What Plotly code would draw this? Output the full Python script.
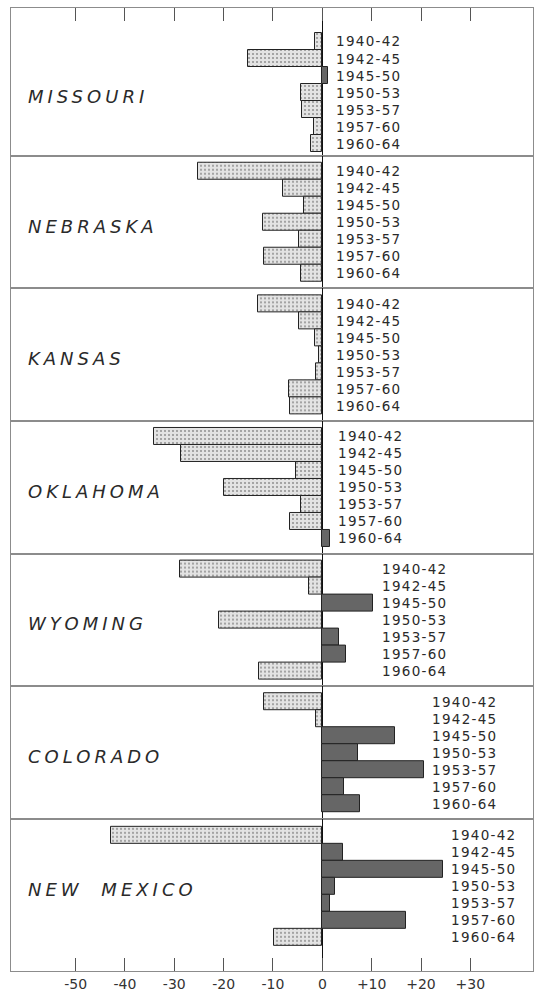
import plotly.graph_objects as go
from plotly.subplots import make_subplots

# ---- data ----
states = ["MISSOURI", "NEBRASKA", "KANSAS", "OKLAHOMA", "WYOMING", "COLORADO", "NEW MEXICO"]
periods = ["1940-42", "1942-45", "1945-50", "1950-53", "1953-57", "1957-60", "1960-64"]

missouri = [-1.5, -15.0, 1.1, -4.4, -4.1, -1.7, -2.2]
nebraska = [-25.3, -7.9, -3.7, -12.1, -4.8, -11.9, -4.4]
kansas = [-13.0, -4.8, -1.5, -0.6, -1.3, -6.7, -6.5]
oklahoma = [-34.2, -28.7, -5.3, -20.0, -4.3, -6.5, 1.5]
wyoming = [-28.8, -2.8, 10.3, -20.9, 3.3, 4.8, -12.9]
colorado = [-11.9, -1.3, 14.7, 7.2, 20.6, 4.4, 7.6]
new_mexico = [-42.8, 4.1, 24.4, 2.5, 1.6, 16.9, -9.8]

series = [missouri, nebraska, kansas, oklahoma, wyoming, colorado, new_mexico]

tick_vals = [-50, -40, -30, -20, -10, 0, 10, 20, 30]
tick_text = ["-50", "-40", "-30", "-20", "-10", "0", "+10", "+20", "+30"]

# ---- layout parameters ----
X_RANGE = [-63.1, 42.7]
pads = [(1.47, 0.22)] + [(0.4, 0.4)] * 5 + [(0.45, 1.5)]
units = [7 + a + b for a, b in pads]
row_heights = [u / sum(units) for u in units]

NEG_BG = "#e3e3e3"
NEG_DOT = "#8a8a8a"
POS = "#666666"
EDGE = "#222222"
FRAME = "#8c8c8c"
FONT = "DejaVu Sans"

fig = make_subplots(rows=7, cols=1, vertical_spacing=0, row_heights=row_heights)

ypos = list(range(len(periods)))
annotations = []
for r, (name, vals) in enumerate(zip(states, series), start=1):
    colors = [POS if v > 0 else NEG_BG for v in vals]
    shapes = ["" if v > 0 else "." for v in vals]
    fig.add_trace(
        go.Bar(
            x=vals, y=ypos, orientation="h", width=1.0,
            marker=dict(
                color=colors,
                line=dict(color=EDGE, width=1),
                pattern=dict(shape=shapes, fgcolor=NEG_DOT, size=4, solidity=0.22),
            ),
            showlegend=False,
            text=periods, hovertemplate="%{text}: %{x}<extra>" + name + "</extra>",
            textposition="none",
        ),
        row=r, col=1,
    )
    pt, pb = pads[r - 1]
    fig.update_yaxes(range=[6.5 + pb, -0.5 - pt], showticklabels=False, ticks="",
                     showgrid=False, zeroline=False, showline=True, mirror=True,
                     linecolor=FRAME, linewidth=1, row=r, col=1)
    xa = dict(range=X_RANGE, showgrid=False, zeroline=True, zerolinecolor="#111111",
              zerolinewidth=1.3, showline=True, mirror=True, linecolor=FRAME, linewidth=1,
              tickvals=tick_vals, ticktext=tick_text, tickcolor="#555555", tickwidth=1)
    if r == 1:
        xa.update(side="top", ticks="inside", ticklen=13, showticklabels=False)
    elif r == 7:
        xa.update(side="bottom", ticks="inside", ticklen=13, showticklabels=True,
                  tickfont=dict(family=FONT, size=14, color="#333333"))
    else:
        xa.update(ticks="", showticklabels=False)
    fig.update_xaxes(**xa, row=r, col=1)

    xref = "x" if r == 1 else f"x{r}"
    yref = "y" if r == 1 else f"y{r}"
    # state name
    annotations.append(dict(
        x=0.028, xref="paper", y=3, yref=yref, yshift=-4,
        text='<span style="letter-spacing:4px;word-spacing:9px">' + name + "</span>",
        showarrow=False, xanchor="left", yanchor="middle",
        font=dict(family=FONT, size=18, color="#2a2a2a", style="italic"),
    ))
    # period labels
    lx = max(max(vals), 1.0) + 1.3
    for i, p in enumerate(periods):
        annotations.append(dict(
            x=lx, xref=xref, y=i, yref=yref,
            text='<span style="letter-spacing:1.3px">' + p + "</span>",
            showarrow=False, xanchor="left", yanchor="middle",
            font=dict(family=FONT, size=13.5, color="#2a2a2a"),
        ))

fig.update_layout(
    width=537, height=995,
    margin=dict(l=11, r=3, t=8, b=17),
    paper_bgcolor="white", plot_bgcolor="white",
    bargap=0, annotations=annotations,
    font=dict(family=FONT),
)

fig.write_html(
    "out.html",
    config={"displayModeBar": False},
    post_script="document.body.style.margin='0px';document.body.style.overflow='hidden';",
)
